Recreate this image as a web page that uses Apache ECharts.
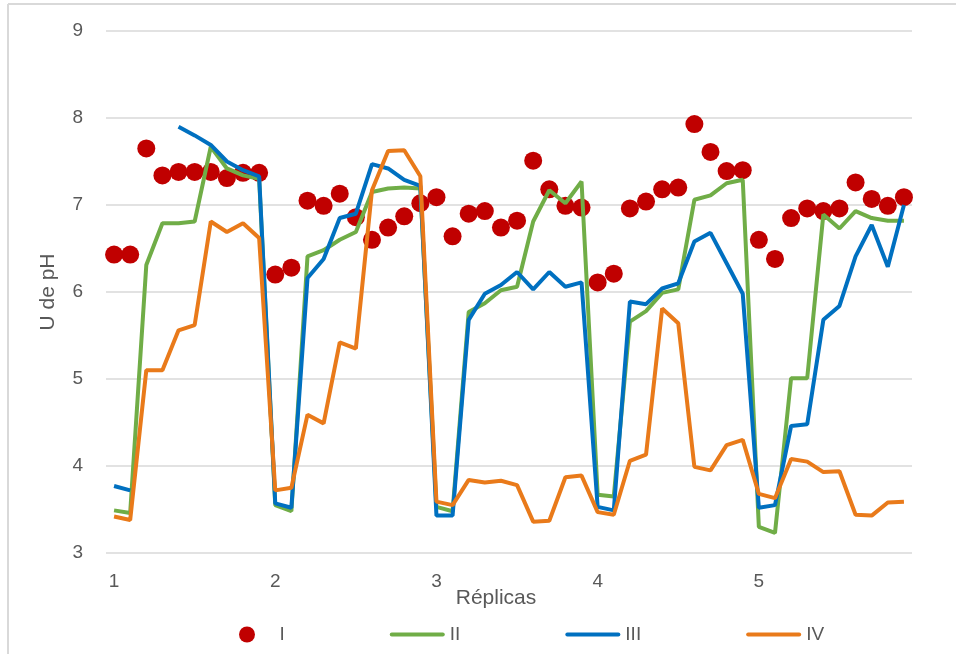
<!DOCTYPE html>
<html>
<head>
<meta charset="utf-8">
<script src="https://cdn.jsdelivr.net/npm/echarts@6/dist/echarts.min.js"></script>
<style>html,body{margin:0;padding:0;background:#fff;}#c{width:956px;height:654px;}</style>
</head>
<body>
<div id="c"></div>
<script>
var categories = [];
for (var k = 0; k < 50; k++) { categories.push((1 + k / 10).toFixed(1)); }
var tickLabels = ['1', '2', '3', '4', '5'];

var seriesI = [6.43,6.43,7.65,7.34,7.38,7.38,7.38,7.31,7.37,7.37,
  6.20,6.28,7.05,6.99,7.13,6.86,6.60,6.74,6.87,7.02,
  7.09,6.64,6.90,6.93,6.74,6.82,7.51,7.18,6.99,6.97,
  6.11,6.21,6.96,7.04,7.18,7.20,7.93,7.61,7.39,7.40,
  6.60,6.38,6.85,6.96,6.93,6.96,7.26,7.07,6.99,7.09];
var seriesII = [3.49,3.46,6.31,6.79,6.79,6.81,7.67,7.42,7.34,7.30,
  3.55,3.48,6.41,6.48,6.60,6.69,7.15,7.19,7.20,7.19,
  3.53,3.48,5.77,5.87,6.02,6.06,6.81,7.17,7.02,7.27,
  3.67,3.65,5.66,5.78,5.99,6.03,7.06,7.11,7.25,7.29,
  3.30,3.23,5.01,5.01,6.89,6.73,6.93,6.85,6.82,6.82];
var seriesIII = [3.77,3.72,null,null,7.90,7.80,7.69,7.50,7.40,7.33,
  3.57,3.52,6.16,6.38,6.85,6.90,7.47,7.42,7.29,7.22,
  3.43,3.43,5.68,5.98,6.08,6.23,6.03,6.23,6.06,6.11,
  3.53,3.49,5.89,5.86,6.04,6.10,6.58,6.68,6.33,5.98,
  3.52,3.55,4.46,4.48,5.68,5.84,6.41,6.77,6.29,7.00];
var seriesIV = [3.42,3.38,5.10,5.10,5.56,5.62,6.81,6.69,6.79,6.62,
  3.72,3.75,4.59,4.49,5.42,5.35,7.17,7.62,7.63,7.33,
  3.59,3.55,3.84,3.81,3.83,3.78,3.36,3.37,3.87,3.89,
  3.47,3.44,4.06,4.13,5.81,5.64,3.99,3.95,4.24,4.30,
  3.68,3.63,4.08,4.05,3.93,3.94,3.44,3.43,3.58,3.59];

var FONT = 'Liberation Sans';
var TXT = '#595959';
var LINE_ICON = 'path://M2,0 L53,0 A2,2 0 0 1 53,4 L2,4 A2,2 0 0 1 2,0 Z';

var chart = echarts.init(document.getElementById('c'), null, {renderer: 'canvas'});
function lineSeries(name, data, color) {
  return {
    name: name, type: 'line', data: data, symbol: 'none', connectNulls: false,
    lineStyle: {color: color, width: 4}, itemStyle: {color: color}, animation: false
  };
}
chart.setOption({
  animation: false,
  backgroundColor: '#fff',
  textStyle: {fontFamily: FONT},
  graphic: [
    {type: 'line', shape: {x1: 8, y1: 4, x2: 956, y2: 4}, style: {stroke: '#d9d9d9', lineWidth: 2}, silent: true},
    {type: 'line', shape: {x1: 8, y1: 4, x2: 8, y2: 654}, style: {stroke: '#d9d9d9', lineWidth: 2}, silent: true}
  ],
  grid: {left: 106, right: 44, top: 31, bottom: 101},
  xAxis: {
    type: 'category', data: categories, boundaryGap: true,
    name: 'Réplicas', nameLocation: 'middle', nameGap: 35, nameMoveOverlap: false,
    nameTextStyle: {color: TXT, fontSize: 21, fontFamily: FONT, padding: [0, 26, 0, 0]},
    axisLine: {show: false}, axisTick: {show: false},
    axisLabel: {
      color: TXT, fontSize: 19, fontFamily: FONT, margin: 19,
      interval: function (idx) { return idx % 10 === 0; },
      formatter: function (v, idx) { return tickLabels[idx / 10]; }
    },
    splitLine: {show: false}
  },
  yAxis: {
    type: 'value', min: 3, max: 9, interval: 1,
    name: 'U de pH', nameLocation: 'middle', nameGap: 47,
    nameTextStyle: {color: TXT, fontSize: 21, fontFamily: FONT},
    axisLine: {show: false}, axisTick: {show: false},
    axisLabel: {color: TXT, fontSize: 19, fontFamily: FONT, margin: 23},
    splitLine: {lineStyle: {color: '#d9d9d9', width: 1.5}}
  },
  legend: {
    left: 234, top: 620, itemWidth: 55, itemHeight: 16, itemGap: 105,
    textStyle: {color: TXT, fontSize: 19, fontFamily: FONT},
    data: [
      {name: 'I', icon: 'circle', textStyle: {fontFamily: FONT}},
      {name: 'II', icon: LINE_ICON, textStyle: {fontFamily: FONT}},
      {name: 'III', icon: LINE_ICON, textStyle: {fontFamily: FONT}},
      {name: 'IV', icon: LINE_ICON, textStyle: {fontFamily: FONT}}
    ]
  },
  series: [
    {name: 'I', type: 'scatter', data: seriesI, symbol: 'circle', symbolSize: 18,
      itemStyle: {color: '#C00000', opacity: 1}, animation: false},
    lineSeries('II', seriesII, '#70AD47'),
    lineSeries('III', seriesIII, '#0070C0'),
    lineSeries('IV', seriesIV, '#E97A1A')
  ]
});
</script>
</body>
</html>
